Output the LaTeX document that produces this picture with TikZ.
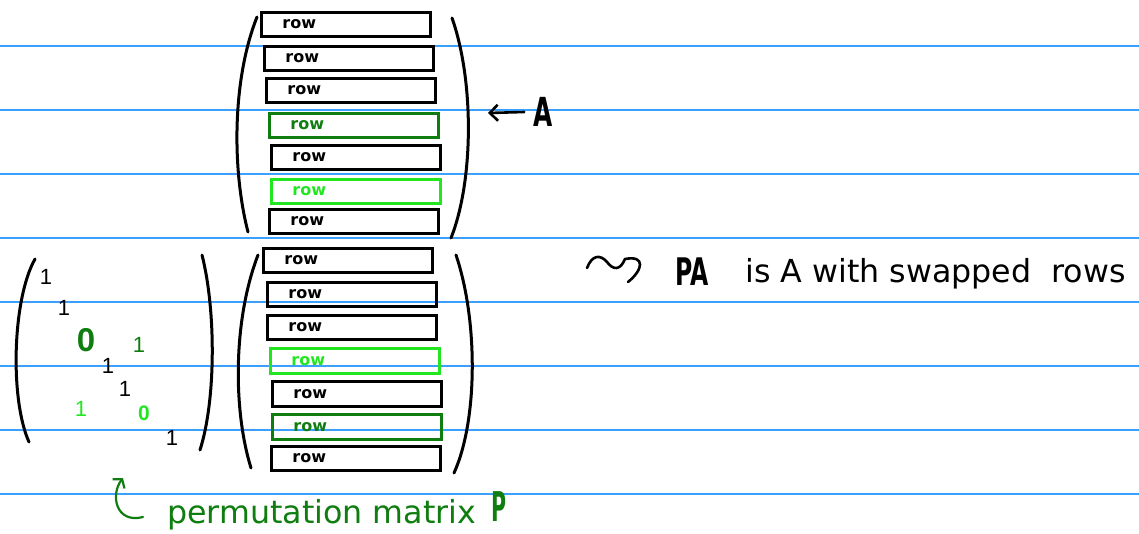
\documentclass[tikz,border=0pt]{standalone}
\usepackage{fontspec}
\usepackage{graphicx}
\setmainfont{DejaVu Sans}
\newfontfamily\digitfont{Liberation Sans}
\usetikzlibrary{arrows.meta,calc}
\definecolor{ruleblue}{RGB}{60,160,255}
\definecolor{dgreen}{RGB}{15,125,15}
\definecolor{bgreen}{RGB}{35,230,35}
\begin{document}
\begin{tikzpicture}[x=1pt,y=-1pt,
  rule/.style={ruleblue, line width=1.4},
  rowbox/.style={draw, line width=2.8, anchor=north west, minimum height=24,
    inner xsep=21, inner ysep=0, text width=127, align=left,
    font=\bfseries\fontsize{16}{16}\selectfont},
  paren/.style={line width=3, line cap=round},
  entry/.style={inner sep=0, font=\digitfont\fontsize{22}{22}\selectfont},
  big/.style={inner sep=0, font=\fontsize{31.7}{38}\selectfont},
  hand/.style={inner sep=0, line width=2.6, line cap=round, line join=round}]
\useasboundingbox (0,0) rectangle (1139,533);
% ruled lines
\foreach \yy in {46,110,174,238,302,366,430,494}
  \draw[rule] (0,\yy) -- (1139,\yy);

% matrix A
\node[rowbox] (a1) at (260,11) {row};
\node[rowbox] (a2) at (263,45) {row};
\node[rowbox] (a3) at (265,77) {row};
\node[rowbox, dgreen, text=dgreen] (a4) at (268,112) {row};
\node[rowbox] (a5) at (270,144) {row};
\node[rowbox, bgreen, text=bgreen] (a6) at (270,178) {row};
\node[rowbox] (a7) at (268,208) {row};
\draw[paren] (257,17) .. controls (232,80) and (232,170) .. (248,232);
\draw[paren] (452,18) .. controls (474,80) and (474,180) .. (451,238);

% label A with arrow
\node[inner sep=0, font=\bfseries\fontsize{40}{40}\selectfont] (labA) at (543,112) {\scalebox{0.62}[1]{A}};
\coordinate (tipA) at (488,113);
\draw[hand, -{Straight Barb[length=8pt,width=16pt]}] ([xshift=-9]labA.west) -- (tipA);

% matrix PA
\node[rowbox] (b1) at (262,247) {row};
\node[rowbox] (b2) at (266,281) {row};
\node[rowbox] (b3) at (266,314) {row};
\node[rowbox, bgreen, text=bgreen, minimum height=25] (b4) at (269,347) {row};
\node[rowbox, minimum height=25] (b5) at (271,380) {row};
\node[rowbox, dgreen, text=dgreen, minimum height=25] (b6) at (271,413) {row};
\node[rowbox] (b7) at (270,445) {row};
\draw[paren] (258,255) .. controls (233,320) and (233,410) .. (251,468);
\draw[paren] (456,255) .. controls (478,320) and (478,420) .. (454,473);

% permutation matrix P
\draw[paren] (35,259) .. controls (12,300) and (10,400) .. (29,442);
\draw[paren] (202,255) .. controls (216,310) and (216,400) .. (200,450);
\node[entry] (p11) at (46,277) {1};
\node[entry] (p22) at (64,308) {1};
\node[entry, dgreen, font=\digitfont\bfseries\fontsize{33}{33}\selectfont] (p33) at (86,340) {0};
\node[entry, dgreen] (p36) at (139,345) {1};
\node[entry] (p44) at (108,366) {1};
\node[entry] (p55) at (125,389) {1};
\node[entry, bgreen] (p63) at (81,409) {1};
\node[entry, bgreen, font=\digitfont\bfseries\fontsize{21}{21}\selectfont] (p66) at (144,413) {0};
\node[entry] (p77) at (172,438) {1};

% label permutation matrix P
\node[big, dgreen, anchor=base west] (permlab) at (167,523) {permutation matrix};
\node[inner sep=0, dgreen, font=\bfseries\fontsize{41}{41}\selectfont] (labP) at (499,507) {\scalebox{0.5}[1]{P}};
\coordinate (hookS) at (143,517);
\coordinate (hookE) at (123,478);
\draw[hand, dgreen, line width=2.2, -{Straight Barb[length=6pt,width=15pt]}] (hookS) .. controls (116,524) and (110,495) .. (hookE);

% leads to PA
\draw[hand] (587,268) .. controls (592,255) and (600,254) .. (607,262)
  .. controls (613,270) and (620,271) .. (625,259)
  .. controls (646,255) and (643,270) .. (628,282);
\node[inner sep=0, font=\bfseries\fontsize{38}{38}\selectfont] (labPA) at (692,272) {\scalebox{0.62}[1]{PA}};
\node[big, anchor=base west] (desc) at (745,282) {is A with swapped\ \ rows};
\end{tikzpicture}
\end{document}
